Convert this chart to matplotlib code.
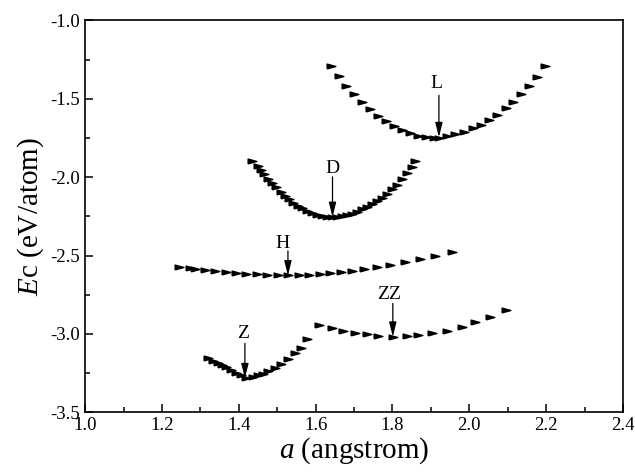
import matplotlib
matplotlib.use("Agg")
import matplotlib.pyplot as plt
from matplotlib.ticker import MultipleLocator

plt.rcParams['font.family'] = ['Liberation Serif', 'DejaVu Serif']
plt.rcParams['mathtext.fontset'] = 'custom'
plt.rcParams['mathtext.rm'] = 'Liberation Serif'
plt.rcParams['mathtext.it'] = 'Liberation Serif:italic'

# lattice constant (angstrom) and cohesive energy (eV/atom)
l_a = [1.639, 1.660, 1.679, 1.700, 1.721, 1.741, 1.762, 1.783, 1.804, 1.825, 1.846, 1.866, 1.887, 1.908,
       1.922, 1.941, 1.963, 1.986, 2.009, 2.030, 2.051, 2.073, 2.095, 2.115, 2.135, 2.156, 2.176, 2.197]
l_e = [-1.290, -1.354, -1.416, -1.471, -1.522, -1.565, -1.608, -1.641, -1.671, -1.699, -1.720, -1.735, -1.743, -1.748,
       -1.748, -1.735, -1.726, -1.710, -1.688, -1.667, -1.635, -1.603, -1.560, -1.518, -1.471, -1.416, -1.359, -1.290]

d_a = [1.435, 1.449, 1.457, 1.466, 1.477, 1.487, 1.498, 1.509, 1.520, 1.531, 1.542, 1.553, 1.565, 1.577, 1.590,
       1.603, 1.616, 1.629, 1.642, 1.655, 1.668, 1.681, 1.694, 1.707, 1.720, 1.733, 1.746, 1.759, 1.772, 1.785,
       1.798, 1.811, 1.824, 1.837, 1.850, 1.859]
d_e = [-1.897, -1.927, -1.954, -1.981, -2.013, -2.039, -2.064, -2.092, -2.118, -2.141, -2.163, -2.182, -2.198, -2.214,
       -2.226, -2.239, -2.248, -2.254, -2.256, -2.254, -2.249, -2.242, -2.232, -2.220, -2.206, -2.190, -2.173, -2.153,
       -2.130, -2.105, -2.077, -2.047, -2.013, -1.975, -1.935, -1.897]

h_a = [1.245, 1.272, 1.285, 1.312, 1.339, 1.366, 1.393, 1.420, 1.447, 1.474, 1.501, 1.528, 1.556, 1.583, 1.611,
       1.638, 1.665, 1.695, 1.725, 1.759, 1.793, 1.832, 1.871, 1.911, 1.955]
h_e = [-2.570, -2.580, -2.585, -2.593, -2.600, -2.606, -2.611, -2.616, -2.620, -2.623, -2.626, -2.627, -2.625,
       -2.622, -2.617, -2.612, -2.606, -2.598, -2.588, -2.575, -2.560, -2.542, -2.522, -2.500, -2.476]

z_a = [1.320, 1.333, 1.345, 1.357, 1.368, 1.381, 1.394, 1.407, 1.420, 1.438, 1.451, 1.464, 1.477, 1.494, 1.511,
       1.529, 1.546, 1.563, 1.578]
z_e = [-3.156, -3.171, -3.188, -3.201, -3.213, -3.230, -3.248, -3.265, -3.281, -3.275, -3.265, -3.253, -3.236,
       -3.216, -3.190, -3.158, -3.124, -3.088, -3.035]

zz_a = [1.609, 1.642, 1.672, 1.702, 1.733, 1.763, 1.802, 1.837, 1.867, 1.902, 1.941, 1.980, 2.015, 2.054, 2.095]
zz_e = [-2.946, -2.964, -2.980, -2.992, -3.003, -3.011, -3.018, -3.013, -3.007, -2.996, -2.980, -2.958, -2.926,
        -2.890, -2.846]

# labels: name, text position, arrow x, arrow top, arrow tip
names = ['L', 'D', 'H', 'ZZ', 'Z']
text_x = [1.915, 1.644, 1.515, 1.790, 1.411]
text_y = [-1.40, -1.945, -2.423, -2.748, -2.997]
arrow_x = [1.921, 1.644, 1.528, 1.801, 1.416]
arrow_top = [-1.478, -1.998, -2.470, -2.805, -3.060]
arrow_tip = [-1.745, -2.254, -2.627, -3.018, -3.283]

tri = [(-1, -0.55), (1, 0), (-1, 0.55), (-1, -0.55)]

fig = plt.figure(figsize=(6.35, 4.75), dpi=100)
ax = fig.add_axes([0.134, 0.132, 0.847, 0.825])

for xs, ys in [(l_a, l_e), (d_a, d_e), (h_a, h_e), (z_a, z_e), (zz_a, zz_e)]:
    ax.plot(xs, ys, linestyle='none', marker=tri, markersize=6.3, color='black', zorder=2)

for i, name in enumerate(names):
    ax.text(text_x[i], text_y[i], name, ha='center', va='center', fontsize=14)
    ax.annotate('', xy=(arrow_x[i], arrow_tip[i]), xytext=(arrow_x[i], arrow_top[i]),
                arrowprops=dict(arrowstyle='-|>,head_length=0.8,head_width=0.2', color='black',
                                lw=0.9, mutation_scale=11, shrinkA=0, shrinkB=0), zorder=3)

ax.set_xlim(1.0, 2.4)
ax.set_ylim(-3.5, -1.0)
ax.xaxis.set_major_locator(MultipleLocator(0.2))
ax.xaxis.set_minor_locator(MultipleLocator(0.1))
ax.yaxis.set_major_locator(MultipleLocator(0.5))
ax.yaxis.set_minor_locator(MultipleLocator(0.25))
ax.xaxis.set_major_formatter(plt.FormatStrFormatter('%.1f'))
ax.yaxis.set_major_formatter(plt.FormatStrFormatter('%.1f'))
ax.tick_params(which='both', direction='in', top=False, right=False, labelsize=13.5, width=1.1)
ax.tick_params(which='major', length=6)
ax.tick_params(which='minor', length=3.5)
for s in ax.spines.values():
    s.set_linewidth(1.2)

ax.set_xlabel(r'$a$ (angstrom)', fontsize=21, labelpad=1)
ax.set_ylabel(r'$E$c (eV/atom)', fontsize=21, labelpad=3)

fig.savefig('out.png', dpi=100)
